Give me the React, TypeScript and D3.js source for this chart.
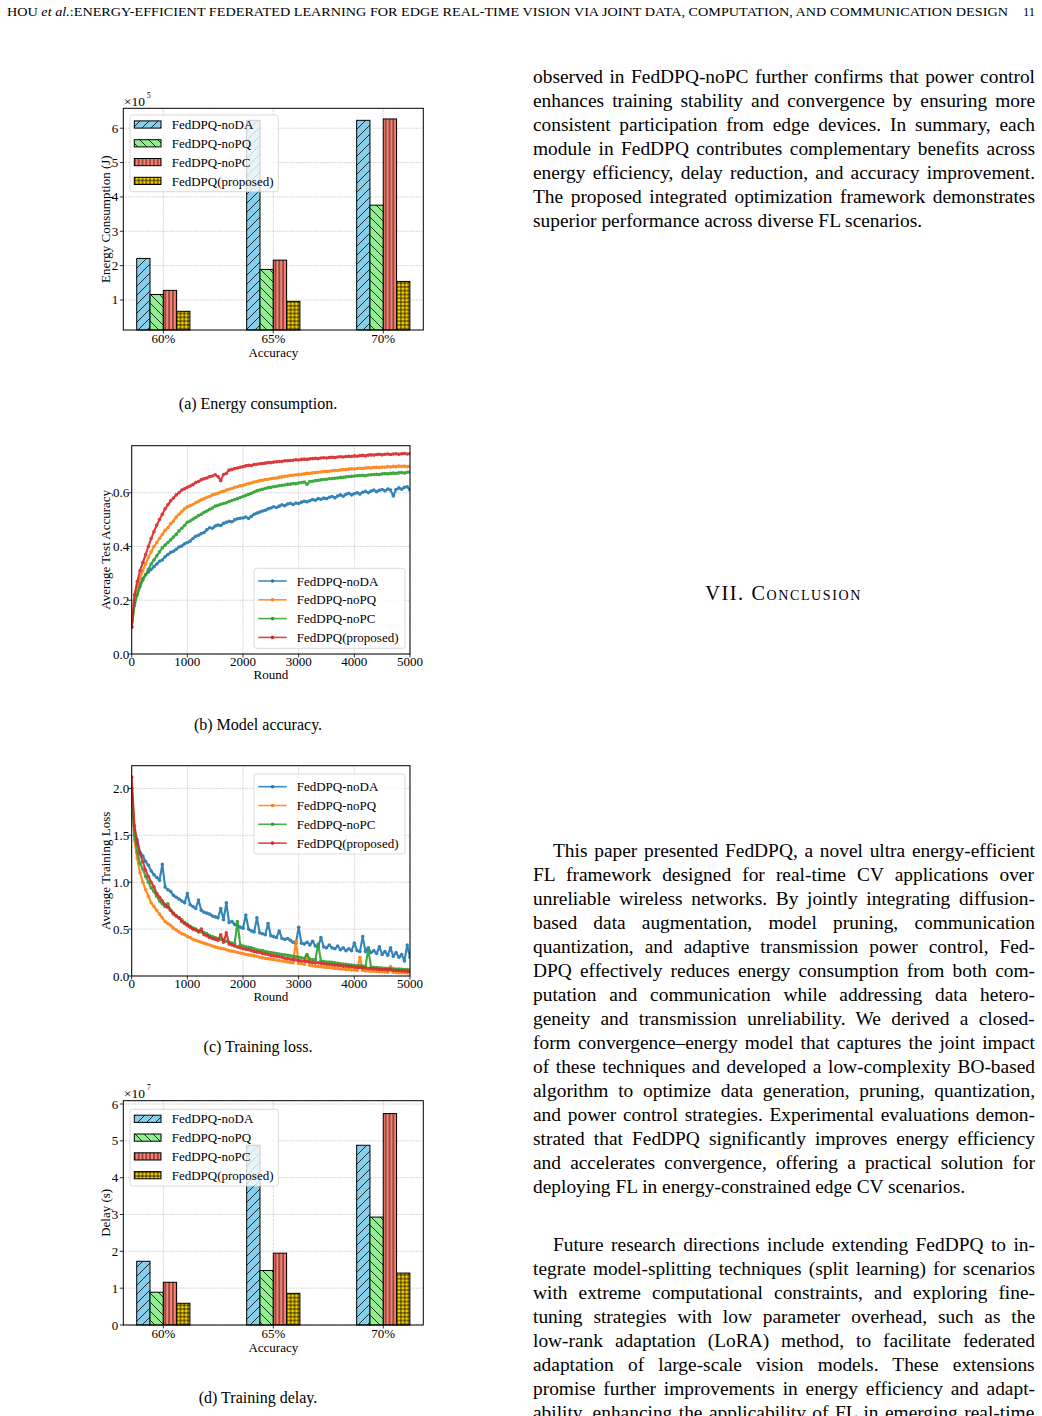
import * as d3 from "d3";

const FONT = "'Liberation Serif', 'Times New Roman', serif";

const methods = ["FedDPQ-noDA", "FedDPQ-noPQ", "FedDPQ-noPC", "FedDPQ(proposed)"];
const accuracyLevels = ["60%", "65%", "70%"];

// energy consumption (x1e5 J) per accuracy target
const energyNoDA = [2.21, 6.23, 6.23];
const energyNoPQ = [1.16, 1.89, 3.76];
const energyNoPC = [1.28, 2.16, 6.27];
const energyProposed = [0.67, 0.96, 1.54];

// training delay (x1e7 s) per accuracy target
const delayNoDA = [1.73, 4.88, 4.88];
const delayNoPQ = [0.89, 1.48, 2.93];
const delayNoPC = [1.16, 1.95, 5.74];
const delayProposed = [0.59, 0.86, 1.41];

const barFills = ["#87ceeb", "#90ee90", "#fa8072", "#ffd700"];
const hatchIds = ["hatch-slash", "hatch-back", "hatch-vert", "hatch-grid"];
const lineColors = ["#1f77b4", "#ff7f0e", "#2ca02c", "#d62728"];

// rounds sampled every 50
const rounds = d3.range(0, 5001, 50);

const accNoDA = [
  0.10, 0.19, 0.23, 0.26, 0.28, 0.295, 0.305, 0.315, 0.325, 0.335,
  0.345, 0.35, 0.362, 0.37, 0.378, 0.382, 0.39, 0.398, 0.402, 0.41,
  0.415, 0.42, 0.43, 0.438, 0.442, 0.448, 0.452, 0.462, 0.47, 0.468,
  0.476, 0.48, 0.478, 0.486, 0.49, 0.494, 0.492, 0.499, 0.503, 0.505,
  0.506, 0.51, 0.504, 0.512, 0.52, 0.524, 0.528, 0.532, 0.535, 0.54,
  0.543, 0.548, 0.545, 0.55, 0.555, 0.552, 0.558, 0.561, 0.556, 0.562,
  0.56, 0.565, 0.568, 0.566, 0.57, 0.575, 0.572, 0.578, 0.576, 0.58,
  0.578, 0.583, 0.586, 0.581, 0.588, 0.592, 0.587, 0.594, 0.598, 0.592,
  0.596, 0.6, 0.595, 0.602, 0.605, 0.6, 0.606, 0.61, 0.604, 0.609,
  0.612, 0.607, 0.614, 0.61, 0.588, 0.612, 0.618, 0.613, 0.62, 0.622,
  0.61,
];
const accNoPQ = [
  0.10, 0.20, 0.25, 0.28, 0.31, 0.335, 0.36, 0.38, 0.40, 0.415,
  0.43, 0.445, 0.46, 0.47, 0.485, 0.495, 0.51, 0.52, 0.53, 0.54,
  0.548, 0.552, 0.556, 0.563, 0.568, 0.574, 0.578, 0.583, 0.586, 0.592,
  0.595, 0.598, 0.603, 0.605, 0.61, 0.613, 0.616, 0.62, 0.622, 0.626,
  0.628, 0.631, 0.634, 0.636, 0.64, 0.642, 0.645, 0.646, 0.649, 0.65,
  0.652, 0.654, 0.655, 0.658, 0.659, 0.661, 0.662, 0.664, 0.665, 0.667,
  0.667, 0.669, 0.67, 0.672, 0.672, 0.674, 0.675, 0.676, 0.677, 0.679,
  0.679, 0.68, 0.682, 0.683, 0.683, 0.685, 0.686, 0.686, 0.688, 0.689,
  0.688, 0.69, 0.691, 0.69, 0.692, 0.693, 0.692, 0.694, 0.695, 0.694,
  0.696, 0.695, 0.697, 0.696, 0.698, 0.697, 0.699, 0.698, 0.699, 0.697,
  0.699,
];
const accNoPC = [
  0.10, 0.18, 0.22, 0.25, 0.275, 0.295, 0.315, 0.335, 0.35, 0.365,
  0.38, 0.395, 0.405, 0.415, 0.425, 0.435, 0.445, 0.458, 0.468, 0.478,
  0.49, 0.495, 0.502, 0.508, 0.515, 0.52, 0.527, 0.532, 0.538, 0.543,
  0.55, 0.553, 0.557, 0.56, 0.563, 0.567, 0.571, 0.575, 0.578, 0.582,
  0.586, 0.59, 0.594, 0.598, 0.603, 0.607, 0.61, 0.613, 0.616, 0.619,
  0.62, 0.622, 0.624, 0.626, 0.628, 0.629, 0.631, 0.632, 0.634, 0.633,
  0.636, 0.638, 0.64, 0.632, 0.642, 0.643, 0.645, 0.646, 0.648, 0.649,
  0.65, 0.652, 0.653, 0.654, 0.655, 0.657, 0.657, 0.659, 0.66, 0.661,
  0.662, 0.663, 0.664, 0.665, 0.663, 0.666, 0.667, 0.668, 0.669, 0.668,
  0.67, 0.671, 0.67, 0.672, 0.673, 0.672, 0.674, 0.675, 0.673, 0.676,
  0.677,
];
const accProposed = [
  0.10, 0.22, 0.27, 0.31, 0.34, 0.37, 0.40, 0.43, 0.455, 0.48,
  0.50, 0.52, 0.54, 0.555, 0.57, 0.58, 0.592, 0.60, 0.61, 0.615,
  0.62, 0.625, 0.63, 0.638, 0.642, 0.648, 0.652, 0.655, 0.66, 0.662,
  0.667, 0.66, 0.645, 0.668, 0.672, 0.684, 0.686, 0.69, 0.692, 0.695,
  0.697, 0.70, 0.702, 0.701, 0.705, 0.706, 0.708, 0.709, 0.71, 0.712,
  0.712, 0.714, 0.715, 0.716, 0.716, 0.719, 0.719, 0.72, 0.721, 0.723,
  0.722, 0.724, 0.725, 0.724, 0.726, 0.727, 0.728, 0.727, 0.729, 0.73,
  0.729, 0.731, 0.732, 0.731, 0.733, 0.734, 0.733, 0.735, 0.736, 0.735,
  0.737, 0.736, 0.738, 0.739, 0.737, 0.74, 0.741, 0.74, 0.742, 0.743,
  0.741, 0.743, 0.744, 0.742, 0.744, 0.745, 0.743, 0.745, 0.746, 0.744,
  0.745,
];

const lossNoDA = [
  1.80, 1.55, 1.45, 1.32, 1.28, 1.22, 1.18, 1.12, 1.08, 1.05,
  1.02, 1.19, 0.95, 0.92, 0.90, 0.86, 0.84, 0.82, 0.80, 0.78,
  0.88, 0.76, 0.74, 0.72, 0.81, 0.70, 0.68, 0.67, 0.66, 0.64,
  0.63, 0.62, 0.72, 0.60, 0.78, 0.57, 0.58, 0.55, 0.54, 0.52,
  0.51, 0.65, 0.50, 0.48, 0.47, 0.62, 0.46, 0.45, 0.44, 0.56,
  0.43, 0.42, 0.41, 0.48, 0.40, 0.39, 0.40, 0.38, 0.36, 0.35,
  0.52, 0.35, 0.34, 0.36, 0.33, 0.37, 0.32, 0.31, 0.41, 0.31,
  0.30, 0.33, 0.30, 0.29, 0.32, 0.28, 0.30, 0.27, 0.29, 0.27,
  0.35, 0.27, 0.26, 0.42, 0.26, 0.30, 0.25, 0.27, 0.24, 0.31,
  0.23, 0.26, 0.22, 0.30, 0.21, 0.25, 0.20, 0.23, 0.16, 0.33,
  0.20,
];
const lossNoPQ = [
  2.00, 1.45, 1.25, 1.10, 1.00, 0.92, 0.85, 0.78, 0.74, 0.70,
  0.66, 0.62, 0.58, 0.56, 0.54, 0.51, 0.49, 0.47, 0.45, 0.44,
  0.42, 0.41, 0.39, 0.38, 0.37, 0.36, 0.35, 0.34, 0.33, 0.32,
  0.31, 0.30, 0.295, 0.29, 0.28, 0.27, 0.265, 0.26, 0.25, 0.245,
  0.24, 0.23, 0.225, 0.22, 0.215, 0.21, 0.20, 0.195, 0.19, 0.185,
  0.18, 0.175, 0.17, 0.165, 0.16, 0.155, 0.15, 0.145, 0.14, 0.37,
  0.135, 0.13, 0.125, 0.22, 0.115, 0.11, 0.105, 0.10, 0.10, 0.095,
  0.09, 0.09, 0.085, 0.08, 0.08, 0.075, 0.075, 0.07, 0.07, 0.065,
  0.065, 0.06, 0.20, 0.06, 0.055, 0.055, 0.05, 0.05, 0.048, 0.045,
  0.045, 0.042, 0.04, 0.10, 0.04, 0.038, 0.036, 0.035, 0.035, 0.033,
  0.032,
];
const lossNoPC = [
  2.00, 1.50, 1.32, 1.20, 1.14, 1.06, 1.00, 0.94, 0.90, 0.85,
  0.80, 0.77, 0.74, 0.77, 0.70, 0.66, 0.64, 0.62, 0.60, 0.57,
  0.55, 0.53, 0.51, 0.50, 0.48, 0.47, 0.46, 0.45, 0.43, 0.42,
  0.41, 0.40, 0.39, 0.38, 0.37, 0.36, 0.35, 0.345, 0.58, 0.33,
  0.32, 0.31, 0.305, 0.30, 0.29, 0.28, 0.275, 0.27, 0.26, 0.255,
  0.25, 0.245, 0.24, 0.235, 0.23, 0.225, 0.22, 0.215, 0.21, 0.205,
  0.20, 0.195, 0.19, 0.23, 0.18, 0.175, 0.17, 0.34, 0.16, 0.155,
  0.15, 0.148, 0.145, 0.14, 0.135, 0.13, 0.128, 0.125, 0.12, 0.118,
  0.115, 0.11, 0.108, 0.105, 0.10, 0.29, 0.095, 0.093, 0.09, 0.088,
  0.085, 0.083, 0.08, 0.078, 0.076, 0.075, 0.073, 0.072, 0.07, 0.068,
  0.066,
];
const lossProposed = [
  2.12, 1.60, 1.42, 1.30, 1.22, 1.13, 1.06, 1.00, 0.95, 0.88,
  0.84, 0.80, 0.76, 0.73, 0.70, 0.67, 0.64, 0.62, 0.58, 0.56,
  0.54, 0.52, 0.50, 0.49, 0.47, 0.50, 0.44, 0.43, 0.41, 0.40,
  0.39, 0.38, 0.44, 0.36, 0.46, 0.34, 0.33, 0.32, 0.31, 0.30,
  0.29, 0.285, 0.28, 0.27, 0.26, 0.255, 0.25, 0.24, 0.235, 0.23,
  0.22, 0.215, 0.21, 0.205, 0.20, 0.19, 0.185, 0.18, 0.175, 0.17,
  0.165, 0.16, 0.16, 0.155, 0.15, 0.145, 0.14, 0.14, 0.135, 0.13,
  0.125, 0.125, 0.12, 0.115, 0.115, 0.11, 0.105, 0.105, 0.10, 0.10,
  0.095, 0.09, 0.09, 0.085, 0.085, 0.08, 0.08, 0.075, 0.075, 0.07,
  0.07, 0.068, 0.065, 0.065, 0.06, 0.06, 0.058, 0.055, 0.055, 0.05,
  0.05,
];

const roundTicks = [0, 1000, 2000, 3000, 4000, 5000];

// page text
const headerText = ":ENERGY-EFFICIENT FEDERATED LEARNING FOR EDGE REAL-TIME VISION VIA JOINT DATA, COMPUTATION, AND COMMUNICATION DESIGN";
const para1 = [
  "observed in FedDPQ-noPC further confirms that power control",
  "enhances training stability and convergence by ensuring more",
  "consistent participation from edge devices. In summary, each",
  "module in FedDPQ contributes complementary benefits across",
  "energy efficiency, delay reduction, and accuracy improvement.",
  "The proposed integrated optimization framework demonstrates",
  "superior performance across diverse FL scenarios.",
];
const para2 = [
  "This paper presented FedDPQ, a novel ultra energy-efficient",
  "FL framework designed for real-time CV applications over",
  "unreliable wireless networks. By jointly integrating diffusion-",
  "based data augmentation, model pruning, communication",
  "quantization, and adaptive transmission power control, Fed-",
  "DPQ effectively reduces energy consumption from both com-",
  "putation and communication while addressing data hetero-",
  "geneity and transmission unreliability. We derived a closed-",
  "form convergence\u2013energy model that captures the joint impact",
  "of these techniques and developed a low-complexity BO-based",
  "algorithm to optimize data generation, pruning, quantization,",
  "and power control strategies. Experimental evaluations demon-",
  "strated that FedDPQ significantly improves energy efficiency",
  "and accelerates convergence, offering a practical solution for",
  "deploying FL in energy-constrained edge CV scenarios.",
];
const para3 = [
  "Future research directions include extending FedDPQ to in-",
  "tegrate model-splitting techniques (split learning) for scenarios",
  "with extreme computational constraints, and exploring fine-",
  "tuning strategies with low parameter overhead, such as the",
  "low-rank adaptation (LoRA) method, to facilitate federated",
  "adaptation of large-scale vision models. These extensions",
  "promise further improvements in energy efficiency and adapt-",
  "ability, enhancing the applicability of FL in emerging real-time",
];

const BODY_SIZE = 19.4;
let measureCtx: CanvasRenderingContext2D | null = null;
function measure(s: string, size: number) {
  if (!measureCtx) measureCtx = document.createElement("canvas").getContext("2d");
  measureCtx!.font = `${size}px "Liberation Serif"`;
  return measureCtx!.measureText(s).width;
}

const Paragraph = ({ lines, y, indent, justifyLast }: { lines: string[]; y: number; indent: number; justifyLast?: boolean }) => {
  const left = 533;
  const width = 502;
  const lh = 24.05;
  return (
    <g fontSize={BODY_SIZE}>
      {lines.map((ln, i) => {
        const ind = i === 0 ? indent : 0;
        const isLast = i === lines.length - 1 && !justifyLast;
        const gaps = ln.split(" ").length - 1;
        const ws = isLast || gaps < 1 ? 0 : (width - ind - measure(ln, BODY_SIZE)) / gaps;
        return (
          <text key={i} x={left + ind} y={y + i * lh} style={{ wordSpacing: `${ws}px` }}>
            {ln}
          </text>
        );
      })}
    </g>
  );
};

const Grid = ({ xs, ys, x0, x1, y0, y1 }: any) => (
  <g stroke="#b0b0b0" strokeWidth={0.7} strokeDasharray="1.2,1.2">
    {xs.map((v: number, i: number) => <line key={"x" + i} x1={v} x2={v} y1={y0} y2={y1} />)}
    {ys.map((v: number, i: number) => <line key={"y" + i} x1={x0} x2={x1} y1={v} y2={v} />)}
  </g>
);

type BarProps = {
  x0: number; x1: number; y0: number; y1: number;
  yDomain: [number, number]; yTicks: number[]; exponent: string;
  series: number[][]; yLabel: string; legendTop: number;
};

const BarPanel = ({ x0, x1, y0, y1, yDomain, yTicks, exponent, series, yLabel, legendTop }: BarProps) => {
  const x = d3.scaleLinear().domain([-0.364, 2.364]).range([x0, x1]);
  const y = d3.scaleLinear().domain(yDomain).range([y1, y0]);
  const bw = 0.121;
  const xMid = (x0 + x1) / 2;
  return (
    <g>
      <Grid xs={accuracyLevels.map((_, i) => x(i))} ys={yTicks.map((t) => y(t))} x0={x0} x1={x1} y0={y0} y1={y1} />
      {series.map((vals, s) =>
        vals.map((v, c) => {
          const bx = x(c + (s - 1.5) * bw - bw / 2);
          const w = x(bw) - x(0);
          const top = y(v);
          const h = y1 - top;
          return (
            <g key={s + "-" + c}>
              <rect x={bx} y={top} width={w} height={h} fill={barFills[s]} />
              <rect x={bx} y={top} width={w} height={h} fill={`url(#${hatchIds[s]})`} />
              <rect x={bx} y={top} width={w} height={h} fill="none" stroke="#000" strokeWidth={1} />
            </g>
          );
        })
      )}
      <rect x={x0} y={y0} width={x1 - x0} height={y1 - y0} fill="none" stroke="#000" strokeWidth={1} />
      {yTicks.map((t) => (
        <g key={t}>
          <line x1={x0 - 3.5} x2={x0} y1={y(t)} y2={y(t)} stroke="#000" strokeWidth={0.8} />
          <text x={x0 - 5} y={y(t) + 4.5} textAnchor="end" fontSize={13}>{t}</text>
        </g>
      ))}
      {accuracyLevels.map((lab, i) => (
        <g key={lab}>
          <line x1={x(i)} x2={x(i)} y1={y1} y2={y1 + 3.5} stroke="#000" strokeWidth={0.8} />
          <text x={x(i)} y={y1 + 13.3} textAnchor="middle" fontSize={13}>{lab}</text>
        </g>
      ))}
      <text x={xMid} y={y1 + 26.7} textAnchor="middle" fontSize={13}>Accuracy</text>
      <text transform={`translate(${109.5},${(y0 + y1) / 2}) rotate(-90)`} textAnchor="middle" fontSize={13}>{yLabel}</text>
      <text x={x0 + 0.5} y={y0 - 2.5} fontSize={13.5}>{"\u00d710"}</text>
      <text x={x0 + 23.5} y={y0 - 10.5} fontSize={8}>{exponent}</text>
      {/* legend */}
      <rect x={130} y={legendTop} width={148.3} height={76.7} rx={2.5} fill="#fff" fillOpacity={0.8} stroke="#d0d0d0" strokeWidth={0.8} />
      {methods.map((m, i) => {
        const cy = legendTop + 9.5 + i * 18.8;
        return (
          <g key={m}>
            <rect x={134.3} y={cy - 3.6} width={26.7} height={7.2} fill={barFills[i]} />
            <rect x={134.3} y={cy - 3.6} width={26.7} height={7.2} fill={`url(#${hatchIds[i]})`} />
            <rect x={134.3} y={cy - 3.6} width={26.7} height={7.2} fill="none" stroke="#000" strokeWidth={1} />
            <text x={171.7} y={cy + 4.6} fontSize={13}>{m}</text>
          </g>
        );
      })}
    </g>
  );
};

type LineProps = {
  y0: number; y1: number; yMax: number; yTicks: number[];
  series: number[][]; yLabel: string; legendTop: number; id: string;
};

const LinePanel = ({ y0, y1, yMax, yTicks, series, yLabel, legendTop, id }: LineProps) => {
  const x0 = 131.7;
  const x1 = 410;
  const x = d3.scaleLinear().domain([0, 5000]).range([x0, x1]);
  const y = d3.scaleLinear().domain([0, yMax]).range([y1, y0]);
  const line = d3.line<number>().x((_, i) => x(rounds[i])).y((d) => y(d));
  const fmt = d3.format(".1f");
  return (
    <g>
      <clipPath id={id}>
        <rect x={x0} y={y0} width={x1 - x0} height={y1 - y0} />
      </clipPath>
      <Grid xs={roundTicks.map((t) => x(t))} ys={yTicks.map((t) => y(t))} x0={x0} x1={x1} y0={y0} y1={y1} />
      <g clipPath={`url(#${id})`}>
        {series.map((vals, s) => (
          <g key={s} opacity={0.9}>
            <path d={line(vals) || ""} fill="none" stroke={lineColors[s]} strokeWidth={2.1} strokeLinejoin="round" />
            {vals.map((v, i) => (
              <circle key={i} cx={x(rounds[i])} cy={y(v)} r={1.8} fill={lineColors[s]} />
            ))}
          </g>
        ))}
      </g>
      <rect x={x0} y={y0} width={x1 - x0} height={y1 - y0} fill="none" stroke="#000" strokeWidth={1} />
      {yTicks.map((t) => (
        <g key={t}>
          <line x1={x0 - 3.5} x2={x0} y1={y(t)} y2={y(t)} stroke="#000" strokeWidth={0.8} />
          <text x={x0 - 2.5} y={y(t) + 4.5} textAnchor="end" fontSize={13}>{fmt(t)}</text>
        </g>
      ))}
      {roundTicks.map((t) => (
        <g key={t}>
          <line x1={x(t)} x2={x(t)} y1={y1} y2={y1 + 3.5} stroke="#000" strokeWidth={0.8} />
          <text x={x(t)} y={y1 + 11.5} textAnchor="middle" fontSize={13}>{t}</text>
        </g>
      ))}
      <text x={(x0 + x1) / 2} y={y1 + 24.5} textAnchor="middle" fontSize={13}>Round</text>
      <text transform={`translate(${109.5},${(y0 + y1) / 2}) rotate(-90)`} textAnchor="middle" fontSize={13}>{yLabel}</text>
      <rect x={254} y={legendTop} width={151} height={80} rx={2.5} fill="#fff" fillOpacity={0.8} stroke="#d0d0d0" strokeWidth={0.8} />
      {methods.map((m, i) => {
        const cy = legendTop + 12.7 + i * 18.8;
        return (
          <g key={m}>
            <line x1={258.3} x2={286.7} y1={cy} y2={cy} stroke={lineColors[i]} strokeWidth={1.6} opacity={0.85} />
            <circle cx={272.5} cy={cy} r={1.8} fill={lineColors[i]} />
            <text x={296.7} y={cy + 4.6} fontSize={13}>{m}</text>
          </g>
        );
      })}
    </g>
  );
};

export default function App() {
  const energySeries = [energyNoDA, energyNoPQ, energyNoPC, energyProposed];
  const delaySeries = [delayNoDA, delayNoPQ, delayNoPC, delayProposed];
  const accSeries = [accNoDA, accNoPQ, accNoPC, accProposed];
  const lossSeries = [lossNoDA, lossNoPQ, lossNoPC, lossProposed];
  return (
    <svg
      width={1042}
      height={1416}
      style={{ position: "absolute", left: 0, top: 0, display: "block", background: "#fff" }}
      fontFamily={FONT}
      fill="#000"
    >
      <defs>
        <pattern id="hatch-slash" patternUnits="userSpaceOnUse" width={9} height={9}>
          <path d="M-1,1 L1,-1 M0,9 L9,0 M8,10 L10,8" stroke="#000" strokeWidth={0.8} />
        </pattern>
        <pattern id="hatch-back" patternUnits="userSpaceOnUse" width={9} height={9}>
          <path d="M-1,8 L1,10 M0,0 L9,9 M8,-1 L10,1" stroke="#000" strokeWidth={0.8} />
        </pattern>
        <pattern id="hatch-vert" patternUnits="userSpaceOnUse" width={3.8} height={10}>
          <path d="M1.9,0 L1.9,10" stroke="#000" strokeWidth={0.8} />
        </pattern>
        <pattern id="hatch-grid" patternUnits="userSpaceOnUse" width={3.8} height={3.8}>
          <path d="M1.9,0 L1.9,3.8 M0,1.9 L3.8,1.9" stroke="#000" strokeWidth={0.8} />
        </pattern>
      </defs>

      <rect x={0} y={0} width={1042} height={1416} fill="#fff" />

      {/* running header */}
      <text x={7} y={16} fontSize={12.5} textLength={1001} lengthAdjust="spacingAndGlyphs">
        HOU <tspan fontStyle="italic">et al.</tspan>
        {headerText}
      </text>
      <text x={1035} y={16} fontSize={12.5} textAnchor="end">11</text>

      <BarPanel
        x0={123.3} x1={423.3} y0={108.3} y1={330}
        yDomain={[0.126, 6.58]} yTicks={[1, 2, 3, 4, 5, 6]} exponent="5"
        series={energySeries} yLabel="Energy Consumption (J)" legendTop={115}
      />
      <text x={258} y={409} textAnchor="middle" fontSize={16}>(a) Energy consumption.</text>

      <LinePanel
        id="clip-acc" y0={445.7} y1={654} yMax={0.775} yTicks={[0, 0.2, 0.4, 0.6]}
        series={accSeries} yLabel="Average Test Accuracy" legendTop={568.3}
      />
      <text x={258} y={730} textAnchor="middle" fontSize={16}>(b) Model accuracy.</text>

      <LinePanel
        id="clip-loss" y0={765.7} y1={976} yMax={2.242} yTicks={[0, 0.5, 1, 1.5, 2]}
        series={lossSeries} yLabel="Average Training Loss" legendTop={774}
      />
      <text x={258} y={1052} textAnchor="middle" fontSize={16}>(c) Training loss.</text>

      <BarPanel
        x0={123.3} x1={423.3} y0={1100.7} y1={1325}
        yDomain={[0, 6.09]} yTicks={[0, 1, 2, 3, 4, 5, 6]} exponent="7"
        series={delaySeries} yLabel="Delay (s)" legendTop={1109.3}
      />
      <text x={258} y={1403} textAnchor="middle" fontSize={16}>(d) Training delay.</text>

      {/* right column */}
      <Paragraph lines={para1} y={82.5} indent={0} />
      <text x={783.5} y={600} textAnchor="middle" fontSize={20.3} letterSpacing={1.6} style={{ fontVariant: "small-caps" }}>
        VII. Conclusion
      </text>
      <Paragraph lines={para2} y={856.5} indent={20} />
      <Paragraph lines={para3} y={1251} indent={20} justifyLast />
    </svg>
  );
}
